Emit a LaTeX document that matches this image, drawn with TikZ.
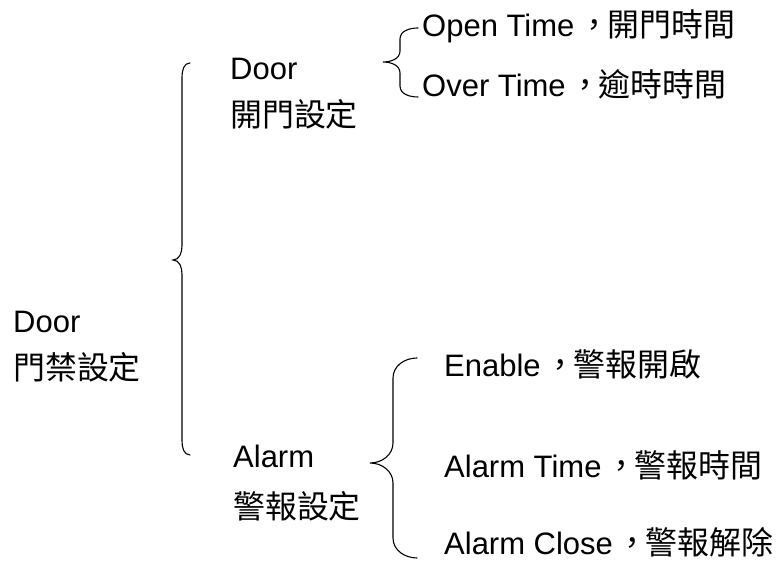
\documentclass[tikz,border=0pt]{standalone}
\usepackage{fontspec}
\setmainfont{Liberation Sans}
\newfontfamily\cjk[Scale=1.03,Language=Chinese Traditional]{Noto Sans CJK TC}
\usetikzlibrary{positioning}
\newcommand{\zhcomma}{\makebox[1.06em][l]{\hspace{0.12em}\cjk ，}}

\begin{document}
\begin{tikzpicture}[
        x=1pt, y=1pt,
        label/.style={anchor=base west, inner sep=0, font=\fontsize{31}{36}\selectfont},
        bracepath/.style={draw=black, line width=1.1pt, line cap=round}
    ]
        \useasboundingbox (0,0) rectangle (777,569);

        % 左側:門禁設定
        \node[label] (door) at (13,236) {Door};
        \node[label] (doorzh) at (13,189) {\cjk 門禁設定};

        % 第二層
        \node[label] (opendoor) at (230,489) {Door};
        \node[label] (opendoorzh) at (230,442) {\cjk 開門設定};
        \node[label] (alarm) at (233,101) {Alarm};
        \node[label] (alarmzh) at (233,50) {\cjk 警報設定};

        % 第三層
        \node[label] (opentime) at (422,532) {Open Time\zhcomma{\cjk 開門時間}};
        \node[label] (overtime) at (422,472) {Over Time\zhcomma{\cjk 逾時時間}};
        \node[label] (enable) at (444,192) {Enable\zhcomma{\cjk 警報開啟}};
        \node[label] (alarmtime) at (444,91) {Alarm Time\zhcomma{\cjk 警報時間}};
        \node[label] (alarmclose) at (444,14) {Alarm Close\zhcomma{\cjk 警報解除}};

        % 大括號:端點x/直線x/尖端x/上/中/下
        \foreach \xe/\xv/\xt/\yt/\ym/\yb/\r in {
            190/182/173/506/309/114/14,
            418/400/383/541/507/472/11,
            417/393/370/211/106/11/20
        } {
            \draw[bracepath] (\xe,\yt) to[out=180,in=90] (\xv,\yt-\r)
                -- (\xv,\ym+\r) to[out=-90,in=0] (\xt,\ym)
                to[out=0,in=90] (\xv,\ym-\r)
                -- (\xv,\yb+\r) to[out=-90,in=180] (\xe,\yb);
        }

    \end{tikzpicture}
\end{document}
